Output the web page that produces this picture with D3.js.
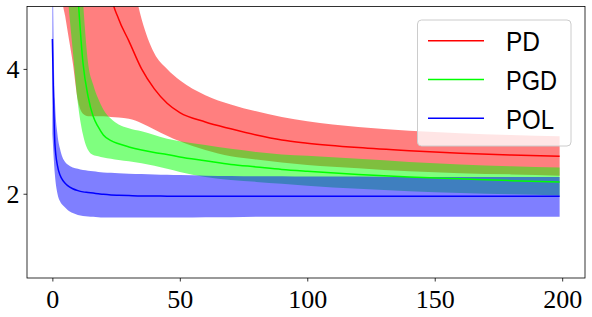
<!DOCTYPE html>
<html>
<head>
<meta charset="utf-8">
<script src="https://cdn.jsdelivr.net/npm/d3@7"></script>
<style>
  body { margin: 0; background: #fff; }
  svg { display: block; }
</style>
</head>
<body>
<svg id="chart" width="592" height="317"></svg>
<script>
// iteration grid the curves were read at
var xs = [0, 1, 2, 3, 4, 5, 6, 8, 10, 12, 14, 16, 18, 20, 23, 26, 30, 35, 40, 45, 50, 60, 70, 80, 90, 100, 120, 140, 160, 180, 199];

// PD (red) - mean, lower and upper edge of the band (values above 5 are off the chart)
var pdMean = [40, 38, 36, 34, 32, 30, 28, 24, 20, 17, 14, 9.5, 7.5, 6.3, 5.2, 4.8, 4.45, 4.0, 3.68, 3.45, 3.30, 3.15, 3.04, 2.94, 2.86, 2.81, 2.74, 2.69, 2.65, 2.62, 2.60];
var pdLo = [9, 8, 7, 6, 5.1, 4.85, 4.6, 4.1, 3.5, 3.28, 3.24, 3.24, 3.24, 3.24, 3.23, 3.22, 3.2, 3.13, 3.03, 2.93, 2.84, 2.70, 2.60, 2.55, 2.50, 2.46, 2.41, 2.36, 2.33, 2.31, 2.29];
var pdHi = [70, 68, 65, 62, 59, 55, 51, 44, 36, 31, 25, 16, 12, 9.4, 7.2, 6.4, 5.7, 4.8, 4.25, 4.0, 3.82, 3.58, 3.43, 3.32, 3.23, 3.16, 3.07, 3.01, 2.97, 2.94, 2.92];

// PGD (green)
var pgdMean = [14, 13, 12, 11, 10, 9, 8.2, 6.6, 5.2, 4.1, 3.56, 3.24, 3.07, 2.94, 2.85, 2.80, 2.75, 2.70, 2.66, 2.63, 2.59, 2.53, 2.47, 2.43, 2.39, 2.36, 2.31, 2.27, 2.24, 2.21, 2.19];
var pgdLo = [9, 8.5, 8, 7.2, 6.5, 5.8, 5.2, 4.3, 3.45, 2.95, 2.70, 2.62, 2.60, 2.58, 2.56, 2.54, 2.52, 2.49, 2.45, 2.40, 2.35, 2.27, 2.22, 2.19, 2.16, 2.13, 2.08, 2.04, 2.01, 1.99, 1.97];
var pgdHi = [20, 19, 18, 17, 16, 14, 12, 9, 6.5, 5.1, 4.1, 3.75, 3.52, 3.35, 3.20, 3.11, 3.05, 3.00, 2.94, 2.88, 2.84, 2.78, 2.72, 2.67, 2.63, 2.61, 2.56, 2.51, 2.47, 2.44, 2.42];

// POL (blue)
var polMean = [4.48, 2.8, 2.45, 2.3, 2.22, 2.17, 2.13, 2.08, 2.05, 2.03, 2.02, 2.01, 2.0, 1.99, 1.98, 1.975, 1.97, 1.965, 1.965, 1.96, 1.96, 1.96, 1.96, 1.96, 1.96, 1.96, 1.96, 1.96, 1.96, 1.96, 1.96];
var polLo = [2.96, 2.3, 2.0, 1.88, 1.82, 1.78, 1.74, 1.69, 1.66, 1.645, 1.635, 1.63, 1.625, 1.62, 1.62, 1.62, 1.62, 1.62, 1.62, 1.62, 1.62, 1.625, 1.625, 1.63, 1.63, 1.63, 1.63, 1.63, 1.63, 1.63, 1.63];
var polHi = [6.0, 3.5, 2.95, 2.72, 2.58, 2.51, 2.47, 2.42, 2.40, 2.38, 2.37, 2.36, 2.35, 2.34, 2.335, 2.33, 2.32, 2.315, 2.31, 2.305, 2.30, 2.29, 2.285, 2.28, 2.28, 2.275, 2.275, 2.27, 2.27, 2.27, 2.27];

var xTicks = [0, 50, 100, 150, 200];
var yTicks = [2, 4];
var names = ["PD", "PGD", "POL"];
var colors = ["#ff0000", "#00ff00", "#0000ff"];

var series = [
    { name: names[0], color: colors[0], mean: pdMean, lo: pdLo, hi: pdHi },
    { name: names[1], color: colors[1], mean: pgdMean, lo: pgdLo, hi: pgdHi },
    { name: names[2], color: colors[2], mean: polMean, lo: polLo, hi: polHi }
];

// plot box (window.top is taken, so prefixed names)
var boxL = 27, boxR = 585, boxT = 6.5, boxB = 278;
var svg = d3.select("#chart");

// same 5% padding matplotlib puts around 0..199
var x = d3.scaleLinear().domain([-9.95, 208.95]).range([boxL, boxR]);
var y = d3.scaleLinear().domain([0.65, 5.0]).range([boxB, boxT]);

svg.append("defs").append("clipPath").attr("id", "plotclip")
    .append("rect").attr("x", boxL).attr("y", boxT)
    .attr("width", boxR - boxL).attr("height", boxB - boxT);

var plot = svg.append("g").attr("clip-path", "url(#plotclip)");

var band = d3.area()
    .x(function (d) { return x(d.x); })
    .y0(function (d) { return y(d.lo); })
    .y1(function (d) { return y(d.hi); })
    .curve(d3.curveMonotoneX);
var line = d3.line()
    .x(function (d) { return x(d.x); })
    .y(function (d) { return y(d.m); })
    .curve(d3.curveMonotoneX);

series.forEach(function (s) {
    s.pts = xs.map(function (v, i) { return { x: v, m: s.mean[i], lo: s.lo[i], hi: s.hi[i] }; });
});

// fills first, lines on top (like matplotlib zorder)
plot.selectAll("path.band").data(series).enter().append("path")
    .attr("class", "band")
    .attr("d", function (s) { return band(s.pts); })
    .attr("fill", function (s) { return s.color; })
    .attr("fill-opacity", 0.5)
    .attr("stroke", "none");

plot.selectAll("path.mean").data(series).enter().append("path")
    .attr("class", "mean")
    .attr("d", function (s) { return line(s.pts); })
    .attr("fill", "none")
    .attr("stroke", function (s) { return s.color; })
    .attr("stroke-width", 1.5);

// axes
var tickFont = "'Liberation Serif', 'DejaVu Serif', serif";
var xAxis = svg.append("g").attr("transform", "translate(0," + boxB + ")")
    .call(d3.axisBottom(x).tickValues(xTicks).tickSize(3.5).tickPadding(4).tickFormat(d3.format("d")));
var yAxis = svg.append("g").attr("transform", "translate(" + boxL + ",0)")
    .call(d3.axisLeft(y).tickValues(yTicks).tickSize(3.5).tickPadding(4).tickFormat(d3.format("d")));
[xAxis, yAxis].forEach(function (a) {
    a.select(".domain").remove();
    a.selectAll(".tick line").attr("stroke", "#000").attr("stroke-width", 0.8);
    a.selectAll(".tick text").attr("fill", "#000").style("font-family", tickFont).style("font-size", "26px");
});
xAxis.selectAll(".tick text").attr("dy", "0.85em");
yAxis.selectAll(".tick text").attr("dy", "0.34em");

svg.append("rect").attr("x", boxL).attr("y", boxT)
    .attr("width", boxR - boxL).attr("height", boxB - boxT)
    .attr("fill", "none").attr("stroke", "#000").attr("stroke-width", 0.8);

// legend
var labelWidth = { PD: 34, PGD: 51, POL: 48 };
var lg = svg.append("g");
lg.append("rect").attr("x", 417.5).attr("y", 20).attr("width", 153.5).attr("height", 126)
    .attr("rx", 4).attr("fill", "#fff").attr("fill-opacity", 0.8)
    .attr("stroke", "#ccc").attr("stroke-width", 1);
var rows = lg.selectAll("g.row").data(series).enter().append("g")
    .attr("transform", function (s, i) { return "translate(0," + (40.7 + i * 38.8) + ")"; });
rows.append("line").attr("x1", 428).attr("x2", 484)
    .attr("stroke", function (s) { return s.color; }).attr("stroke-width", 1.5);
rows.append("text").attr("x", 506).attr("y", 10.5)
    .style("font-family", "'Liberation Sans', sans-serif").style("font-size", "28px")
    .attr("textLength", function (s) { return labelWidth[s.name]; })
    .attr("lengthAdjust", "spacingAndGlyphs")
    .attr("fill", "#000")
    .text(function (s) { return s.name; });
</script>
</body>
</html>
